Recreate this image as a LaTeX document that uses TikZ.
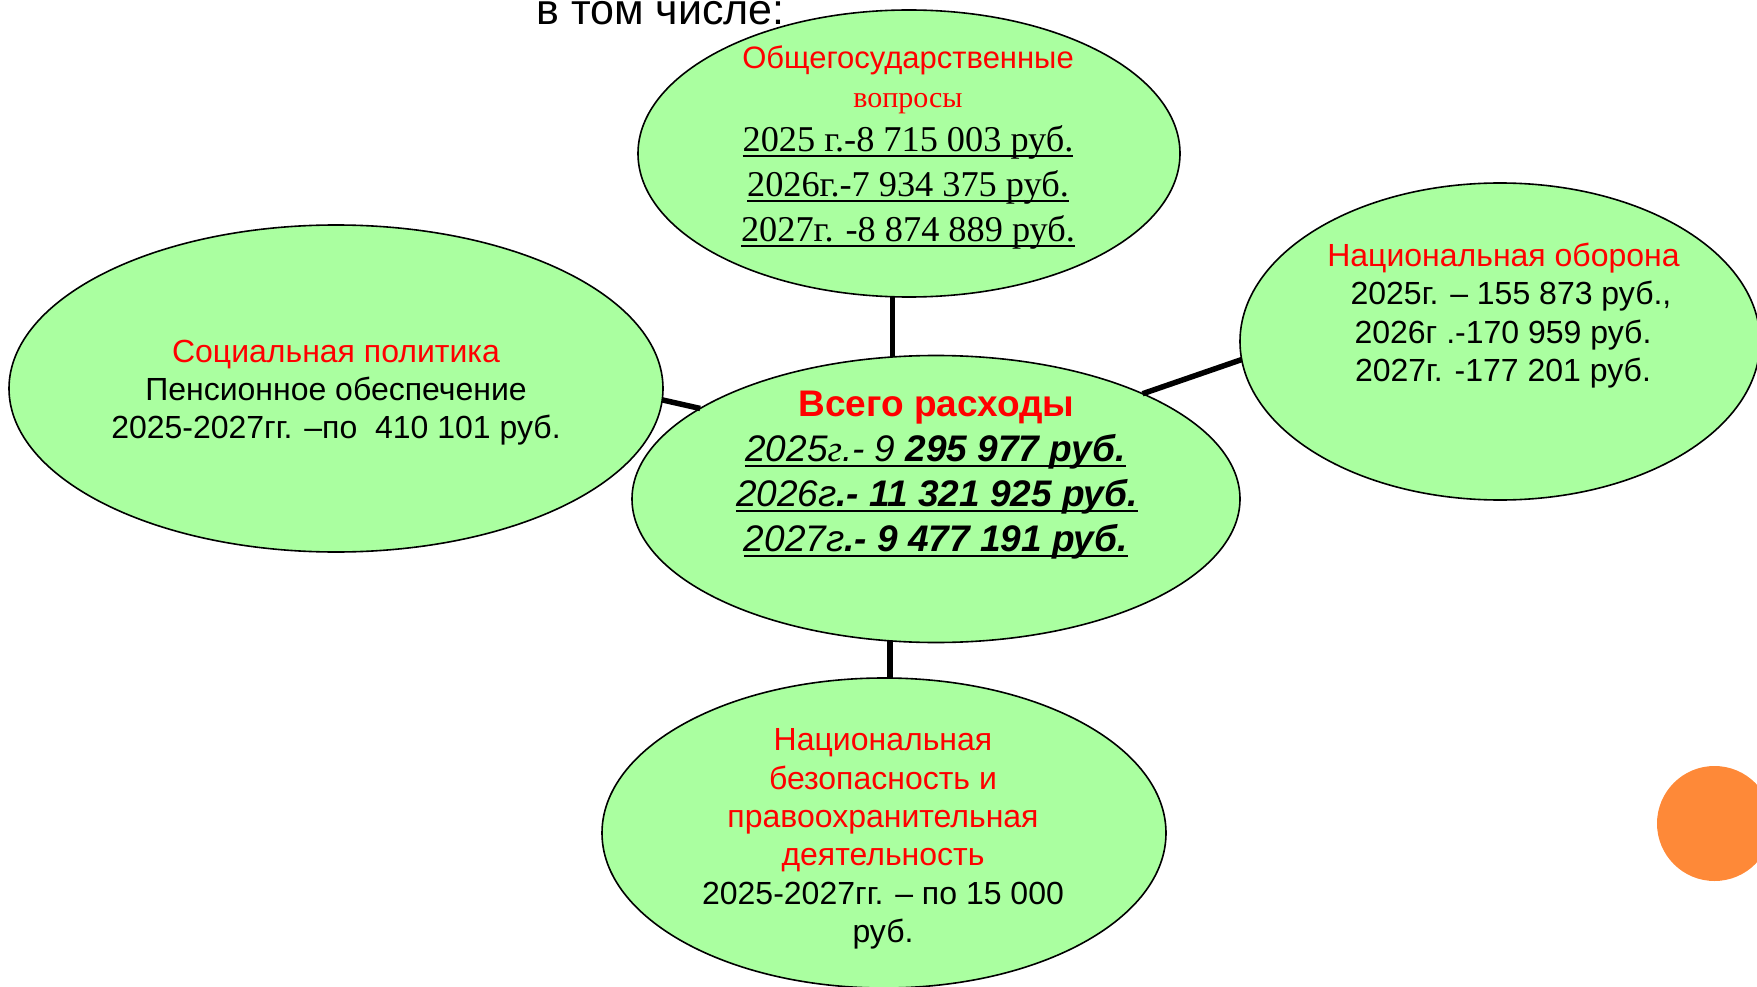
\documentclass[tikz,border=0pt]{standalone}
\usepackage{fontspec}
\setmainfont{Liberation Sans}
\newfontfamily\tnr{Liberation Serif}
\usetikzlibrary{shapes.geometric}
\definecolor{bubble}{RGB}{170,255,160}
\definecolor{dotcol}{RGB}{254,137,56}
\newcommand\fsz[1]{\fontsize{#1}{#1}\selectfont}
\newcommand\myul[1]{\setbox0=\hbox{#1}\rlap{\raisebox{-5.5pt}{\rule{\wd0}{2pt}}}\box0}
\begin{document}
\begin{tikzpicture}[x=1pt,y=-1pt,
  bub/.style={ellipse,draw=black,line width=1.6pt,fill=bubble,inner sep=0pt,outer sep=0pt},
  link/.style={draw=black,line width=5.5pt},
  lbl/.style={anchor=base,inner sep=0pt},
  redlbl/.style={lbl,text=red,font=\fsz{32}},
  blklbl/.style={lbl,text=black,font=\fsz{32}},
  tnrlbl/.style={lbl,text=black,font=\tnr\fsz{36.3}},
  totlbl/.style={lbl,text=black,font=\itshape\fsz{37}}]
\useasboundingbox (0,0) rectangle (1757,987);
\clip (0,0) rectangle (1757,987);
% bubbles
\node[bub,minimum width=542pt,minimum height=287pt] (top) at (909,153.5) {};
\node[bub,minimum width=654pt,minimum height=327pt] (left) at (336,388.5) {};
\node[bub,minimum width=520pt,minimum height=317pt] (right) at (1500,341.5) {};
\node[bub,minimum width=608pt,minimum height=287pt] (center) at (936,499) {};
\node[bub,minimum width=564pt,minimum height=310pt] (bottom) at (884,833) {};
\node[circle,fill=dotcol,minimum size=115pt,inner sep=0pt] (dotc) at (1714.5,823.5) {};
% connectors
\draw[link] (center.107.8) -- (center.107.8 |- top.south);
\draw[link] (center.252.2) -- (center.252.2 |- bottom.north);
\draw[link] (left.-2) -- (center.159.8);
\draw[link] (center.27.7) -- (right.184.8);
% title
\node[lbl,font=\fsz{43}] (title) at (660.5,25) {в том числе:};
% top
\node[redlbl,font=\fsz{31}] (t1) at (908,69) {Общегосударственные};
\node[redlbl,font=\tnr\fsz{30}] (t2) at (908,108) {вопросы};
\node[tnrlbl] (t3) at (908,151.7) {\myul{2025 г.-8 715 003 руб.}};
\node[tnrlbl] (t4) at (908,196.7) {\myul{2026г.-7 934 375 руб.}};
\node[tnrlbl] (t5) at (908,241.7) {\myul{2027г. -8 874 889 руб.}};
% center
\node[lbl,text=red,font=\bfseries\fsz{37}] (c1) at (936.5,416) {Всего расходы};
\node[totlbl] (c2) at (935.5,461.7) {\myul{2025{\tnr г}.- 9\textbf{ 295 977 руб.}}};
\node[totlbl] (c3) at (937,506.7) {\myul{2026г\textbf{.- 11 321 925 руб.}}};
\node[totlbl] (c4) at (936,551.7) {\myul{2027г\textbf{.- 9 477 191 руб.}}};
% right
\node[redlbl] (r1) at (1503.5,266.7) {Национальная оборона};
\node[blklbl] (r2) at (1511,305) {2025г. – 155 873 руб.,};
\node[blklbl] (r3) at (1503,343) {2026г .-170 959 руб.};
\node[blklbl] (r4) at (1503,381.7) {2027г. -177 201 руб.};
% left
\node[redlbl] (l1) at (336,362.7) {Социальная политика};
\node[blklbl] (l2) at (336,400) {Пенсионное обеспечение};
\node[blklbl] (l3) at (336,438) {2025-2027гг. –по\ \ 410 101 руб.};
% bottom
\node[redlbl] (b1) at (883,750.7) {Национальная};
\node[redlbl] (b2) at (883,789) {безопасность и};
\node[redlbl] (b3) at (883,827) {правоохранительная};
\node[redlbl] (b4) at (883,865) {деятельность};
\node[blklbl] (b5) at (883,904) {2025-2027гг. – по 15 000};
\node[blklbl] (b6) at (883,942.7) {руб.};
\end{tikzpicture}
\end{document}
